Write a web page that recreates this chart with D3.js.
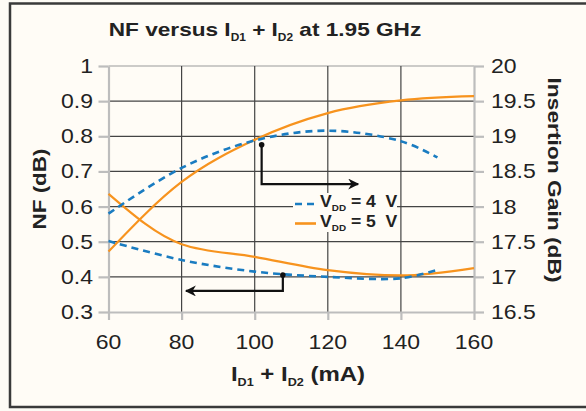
<!DOCTYPE html>
<html><head><meta charset="utf-8">
<script src="https://cdn.jsdelivr.net/npm/d3@7"></script>
<style>
html,body{margin:0;padding:0;background:#fdfbf5;}
text{font-family:"Liberation Sans",Arial,sans-serif;fill:#222;}
</style></head>
<body>
<svg id="c" width="586" height="411"></svg>
<script>
// ---- data ----
const nf4 = [[60,0.502],[80,0.448],[100,0.415],[120,0.400],[140,0.396],[150,0.420]];
const gain4 = [[60,17.90],[80,18.55],[100,18.94],[120,19.08],[140,18.93],[150,18.70]];
const nf5 = [[60,0.636],[80,0.493],[100,0.457],[120,0.419],[140,0.404],[160,0.425]];
const gain5 = [[60,17.36],[80,18.35],[100,18.95],[120,19.33],[140,19.51],[160,19.57]];
const xTicks = [60, 80, 100, 120, 140, 160];
const nfTicks = [0.3, 0.4, 0.5, 0.6, 0.7, 0.8, 0.9, 1];
const gainTicks = [16.5, 17, 17.5, 18, 18.5, 19, 19.5, 20];
const legendLabels = ["4", "5"];
// annotation arrows (data coords): [x, value] path points
const arrowGain = [[101.9, 18.88], [101.9, 18.32], [128.3, 18.32]]; // on gain axis
const arrowNF = [[107.7, 0.405], [107.7, 0.360], [81.2, 0.360]];     // on NF axis

const svg = d3.select("#c");
const W = 586, H = 411;
const x = d3.scaleLinear().domain([60,160]).range([108.5,474]);
const yL = d3.scaleLinear().domain([0.3,1]).range([312,66]);
const yR = d3.scaleLinear().domain([16.5,20]).range([312,66]);

const blue = "#1a7cc1", orange = "#f7931e";

// background + frame
svg.append("rect").attr("width",W).attr("height",H).attr("fill","#fdfbf5");
svg.append("rect").attr("x",10).attr("y",3.5).attr("width",600).attr("height",403.5)
  .attr("fill","#fffcf6").attr("stroke","#3a3a3a").attr("stroke-width",2.5);

// gridlines
const g = svg.append("g");
g.selectAll(".hg").data(nfTicks.filter(d=>d>0.3)).enter().append("line")
  .attr("x1",x(60)).attr("x2",x(160)).attr("y1",d=>yL(d)).attr("y2",d=>yL(d))
  .attr("stroke",d=>d===1?"#9a9a9a":"#444").attr("stroke-width",1.2);
g.selectAll(".vg").data(xTicks.filter(d=>d>60&&d<160)).enter().append("line")
  .attr("x1",d=>x(d)).attr("x2",d=>x(d)).attr("y1",yL(1)).attr("y2",yL(0.3))
  .attr("stroke","#444").attr("stroke-width",1.2);

// axes (light gray lines with outward ticks)
const axCol = "#bdbdbd";
const axL = d3.axisLeft(yL).tickValues(nfTicks).tickSize(10).tickFormat("").tickSizeOuter(0);
const axR = d3.axisRight(yR).tickValues(gainTicks).tickSize(10).tickFormat("").tickSizeOuter(0);
const axB = d3.axisBottom(x).tickValues(xTicks).tickSize(8).tickFormat("").tickSizeOuter(0);
[[axL,`translate(${x(60)},0)`],[axR,`translate(${x(160)},0)`],[axB,`translate(0,${yL(0.3)})`]].forEach(([a,t])=>{
  const gg = svg.append("g").attr("transform",t).call(a);
  gg.selectAll("path,line").attr("stroke",axCol).attr("stroke-width",2.2);
});

// tick labels (stretched horizontally)
const sx = 1.15;
function lab(txt, px, py, anchor){
  svg.append("text").attr("transform",`translate(${px},${py}) scale(${sx},1)`)
    .attr("text-anchor",anchor).attr("font-size",20).text(txt);
}
nfTicks.forEach(d=>lab(d3.format("")(d), 93, yL(d)+7, "end"));
gainTicks.forEach(d=>lab(String(d), 491, yR(d)+7, "start"));
xTicks.forEach(d=>lab(String(d), x(d), 349, "middle"));

// legend background (covers gridlines)
svg.append("rect").attr("x",293).attr("y",193).attr("width",104).attr("height",39).attr("fill","#fffcf6");

// series
const ln = (ys, curve) => d3.line().x(d=>x(d[0])).y(d=>ys(d[1])).curve(curve);
svg.append("path").attr("d",ln(yR,d3.curveMonotoneX)(gain5)).attr("fill","none").attr("stroke",orange).attr("stroke-width",2.2);
svg.append("path").attr("d",ln(yL,d3.curveMonotoneX)(nf5)).attr("fill","none").attr("stroke",orange).attr("stroke-width",2.2);
svg.append("path").attr("d",ln(yR,d3.curveCatmullRom)(gain4)).attr("fill","none").attr("stroke",blue).attr("stroke-width",2.6).attr("stroke-dasharray","7,5");
svg.append("path").attr("d",ln(yL,d3.curveCatmullRom)(nf4)).attr("fill","none").attr("stroke",blue).attr("stroke-width",2.6).attr("stroke-dasharray","7,5");

// arrows
const defs = svg.append("defs");
defs.append("marker").attr("id","ah").attr("viewBox","0 0 10 10").attr("refX",9).attr("refY",5)
  .attr("markerWidth",6).attr("markerHeight",5).attr("orient","auto").attr("markerUnits","strokeWidth")
  .append("path").attr("d","M0,0 L10,5 L0,10 L3,5 Z").attr("fill","#111");
function arrow(pts, ys){
  svg.append("path").attr("d",d3.line().x(d=>x(d[0])).y(d=>ys(d[1]))(pts))
    .attr("fill","none").attr("stroke","#111").attr("stroke-width",2.2).attr("marker-end","url(#ah)");
  svg.append("circle").attr("cx",x(pts[0][0])).attr("cy",ys(pts[0][1])).attr("r",2.8).attr("fill","#111");
}
arrow(arrowGain, yR);
arrow(arrowNF, yL);

// legend
[[blue,"7,5",2.6],[orange,null,2.6]].forEach((s,i)=>{
  const yy = 204 + i*19.5;
  svg.append("line").attr("x1",295).attr("x2",316).attr("y1",yy).attr("y2",yy)
    .attr("stroke",s[0]).attr("stroke-width",s[2]).attr("stroke-dasharray",s[1]);
  const t = svg.append("text").attr("transform",`translate(320,${yy+3}) scale(1.1,1)`)
    .attr("font-size",16).attr("font-weight","bold");
  t.append("tspan").text("V");
  t.append("tspan").attr("font-size",9).attr("dy",4).text("DD");
  t.append("tspan").attr("dy",-4).text("\u00a0=\u00a0" + legendLabels[i] + "\u00a0\u00a0V");
});

// text with subscripts
function subText(parts, px, py, size, subSize, scx){
  const t = svg.append("text").attr("transform",`translate(${px},${py}) scale(${scx},1)`)
    .attr("text-anchor","middle").attr("font-size",size).attr("font-weight","bold");
  let sub = false;
  parts.forEach(p=>{
    const isSub = p.startsWith("_");
    const s = t.append("tspan").text(isSub?p.slice(1):p);
    if(isSub){ s.attr("font-size",subSize).attr("dy",5); sub=true; }
    else if(sub){ s.attr("dy",-5); sub=false; }
  });
  return t;
}
subText(["NF versus I","_D1"," + I","_D2"," at 1.95 GHz"], 265, 36, 19, 10, 1.19);
subText(["I","_D1"," + I","_D2"," (mA)"], 298, 381, 20, 10.5, 1.2);

// y-axis titles
svg.append("text").attr("transform",`translate(46,189) rotate(-90) scale(1.18,1)`).attr("text-anchor","middle")
  .attr("font-size",19).attr("font-weight","bold").text("NF (dB)");
svg.append("text").attr("transform",`translate(548,180) rotate(90) scale(1.2,1)`).attr("text-anchor","middle")
  .attr("font-size",19).attr("font-weight","bold").text("Insertion Gain (dB)");
</script>
</body></html>
